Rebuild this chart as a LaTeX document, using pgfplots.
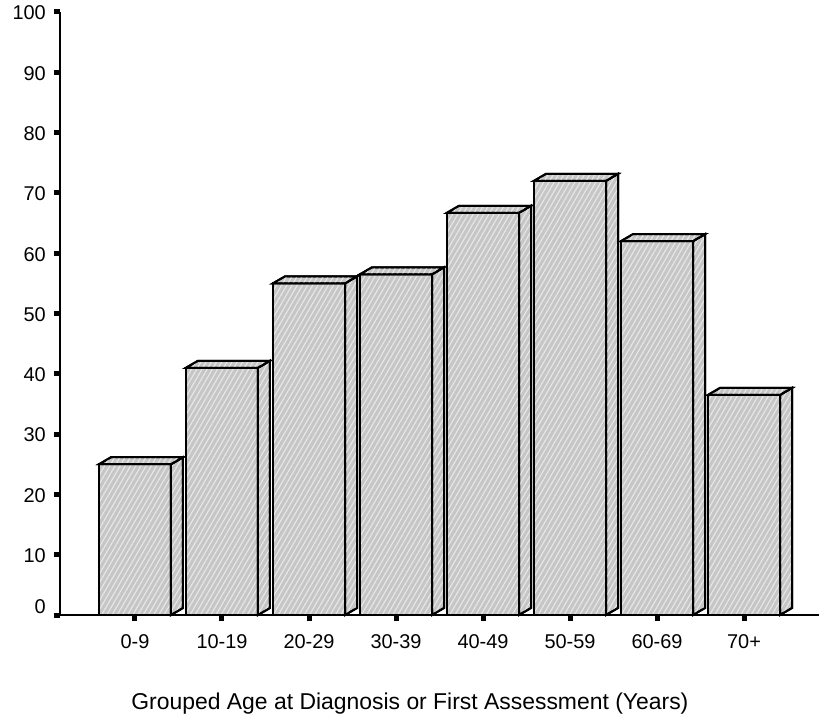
\documentclass[border=0pt]{standalone}
\usepackage{fontspec}
\setmainfont{Liberation Sans}
\usepackage{pgfplots}
\pgfplotsset{compat=1.18}
\usetikzlibrary{patterns.meta}

\definecolor{barfill}{RGB}{198,198,198}
\definecolor{hatch}{RGB}{232,232,232}

% Percentage per age group
\pgfplotstableread{
x y
0 25
1 41
2 55
3 56.5
4 66.7
5 72
6 62
7 36.5
}\agedata

\tikzset{
  barface/.style={fill=barfill, draw=black, line width=2bp, line join=miter,
    postaction={pattern={Lines[angle=60,distance=4.5bp,line width=1.1bp]}, pattern color=hatch}},
}
\pgfdeclareplotmark{blank}{}

\begin{document}
\begin{tikzpicture}
\begin{axis}[
  scale only axis, width=759bp, height=603bp,
  xmin=-0.862, xmax=7.862, ymin=0, ymax=100,
  axis x line*=bottom, axis y line*=left,
  axis line style={line width=2.5bp, black},
  xtick={0,...,7},
  xticklabels={0-9,10-19,20-29,30-39,40-49,50-59,60-69,70+},
  ytick={10,20,...,100},
  extra y ticks={0},
  extra y tick style={yticklabel style={yshift=9bp}},
  tick align=outside, major tick length=6bp,
  tick style={line width=5bp, black},
  /pgf/number format/assume math mode=true,
  ticklabel style={font=\fontsize{20}{22}\selectfont, inner sep=0pt},
  yticklabel style={anchor=east, xshift=-8bp, yshift=-1bp},
  xticklabel style={anchor=north, yshift=-13bp},
  xlabel={Grouped Age at Diagnosis or First Assessment (Years)},
  xlabel style={font=\fontsize{23}{25}\selectfont, at={(axis description cs:0.461,0)}, anchor=base, yshift=-94bp, inner sep=0pt},
  clip=false,
]
% depth faces (top and right side) of each bar; meta 0..100 maps to 0..1000
\addplot[scatter, only marks, mark=blank,
  point meta=y, point meta min=0, point meta max=100,
  scatter/@pre marker code/.code={%
    \pgfmathsetmacro\hh{\pgfplotspointmetatransformed*0.603}%
    \path[barface] (36bp,0bp) -- (48bp,7bp) -- (48bp,7bp-\hh bp) -- (36bp,-\hh bp) -- cycle;
    \path[barface] (-36bp,0bp) -- (36bp,0bp) -- (48bp,7bp) -- (-24bp,7bp) -- cycle;
  },
  scatter/@post marker code/.code={},
] table[x=x,y=y] {\agedata};
% front faces
\addplot[ybar, bar width=72bp, barface] table[x=x,y=y] {\agedata};
\end{axis}
\pgfresetboundingbox
\path[use as bounding box] ([xshift=-60bp,yshift=-104bp]current axis.south west) rectangle ([yshift=12bp]current axis.north east);
\end{tikzpicture}
\end{document}
